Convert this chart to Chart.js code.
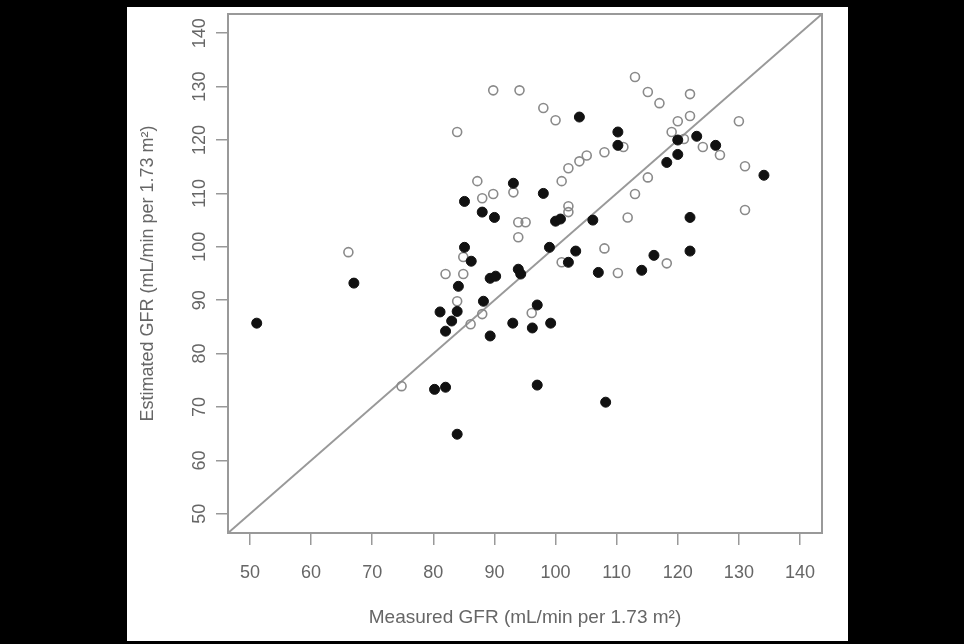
<!DOCTYPE html>
<html>
<head>
<meta charset="utf-8">
<script src="https://cdn.jsdelivr.net/npm/chart.js@4.4.1/dist/chart.umd.min.js"></script>
<style>
  html, body { margin: 0; padding: 0; background: #000; width: 964px; height: 644px; overflow: hidden; }
  #panel { position: absolute; left: 127px; top: 7px; width: 721px; height: 634px; background: #fff; }
</style>
</head>
<body>
<div id="panel"><canvas id="gfrChart"></canvas></div>
<script>
// measured GFR (x) vs estimated GFR (y), two groups
const filledX = [51.1, 67.0, 85.1, 88.0, 90.0, 85.1, 86.2, 84.1, 81.1, 83.9, 83.0, 82.0, 88.2, 89.3, 89.3, 90.2, 93.9, 94.3, 93.0, 80.2, 82.0, 83.9, 93.1, 98.0, 100.0, 100.8, 99.0, 102.1, 103.3, 106.1, 107.0, 114.1, 97.0, 96.2, 99.2, 97.0, 108.2, 103.9, 110.2, 110.2, 120.0, 123.1, 126.2, 120.0, 118.2, 134.1, 122.0, 122.0, 116.1];
const filledY = [85.7, 93.2, 108.5, 106.5, 105.5, 99.9, 97.3, 92.6, 87.8, 87.9, 86.1, 84.2, 89.8, 83.3, 94.1, 94.5, 95.8, 94.9, 85.7, 73.3, 73.7, 64.9, 111.9, 110.0, 104.8, 105.2, 99.9, 97.1, 99.2, 105.0, 95.2, 95.6, 89.1, 84.8, 85.7, 74.1, 70.9, 124.3, 121.5, 119.0, 120.0, 120.7, 119.0, 117.3, 115.8, 113.4, 105.5, 99.2, 98.4];

const openX = [66.1, 74.8, 83.9, 89.8, 94.1, 87.2, 88.0, 89.8, 93.1, 93.9, 95.1, 93.9, 84.9, 82.0, 84.9, 83.9, 86.1, 88.0, 101.0, 110.2, 118.2, 96.1, 113.0, 115.1, 117.0, 122.0, 98.0, 100.0, 122.0, 130.0, 120.0, 119.0, 111.1, 121.0, 124.1, 126.9, 131.0, 115.1, 113.0, 111.8, 131.0, 108.0, 102.1, 102.1, 101.0, 102.1, 103.9, 105.1, 108.0];
const openY = [99.0, 73.9, 121.5, 129.3, 129.3, 112.3, 109.1, 109.9, 110.2, 104.6, 104.6, 101.8, 98.1, 94.9, 94.9, 89.8, 85.5, 87.4, 97.1, 95.1, 96.9, 87.6, 131.8, 129.0, 126.9, 128.6, 126.0, 123.7, 124.5, 123.5, 123.5, 121.5, 118.7, 120.2, 118.7, 117.2, 115.1, 113.0, 109.9, 105.5, 106.9, 99.7, 107.6, 106.5, 112.3, 114.7, 116.0, 117.1, 117.7];

const axisRange = [46.4, 143.6];
const xTicks = [50, 60, 70, 80, 90, 100, 110, 120, 130, 140];
const yTicks = [50, 60, 70, 80, 90, 100, 110, 120, 130, 140];

const textGray = "#666";
const lineGray = "#999";

function toPoints(xs, ys) {
  return xs.map((x, i) => ({ x: x, y: ys[i] }));
}

// box around the plot + rotated y tick labels (R style)
const boxAndLabels = {
  id: "boxAndLabels",
  afterDraw(chart) {
    const { ctx, chartArea, scales } = chart;
    ctx.save();
    ctx.strokeStyle = lineGray;
    ctx.lineWidth = 2;
    ctx.strokeRect(chartArea.left, chartArea.top, chartArea.right - chartArea.left, chartArea.bottom - chartArea.top);

    ctx.fillStyle = textGray;
    ctx.font = "18px 'Liberation Sans', Arial, sans-serif";
    ctx.textAlign = "center";
    ctx.textBaseline = "middle";
    yTicks.forEach((v) => {
      const py = scales.y.getPixelForValue(v);
      ctx.save();
      ctx.translate(chartArea.left - 28, py);
      ctx.rotate(-Math.PI / 2);
      ctx.fillText(String(v), 0, 0);
      ctx.restore();
    });
    ctx.restore();
  },
};

const ctx = document.getElementById("gfrChart").getContext("2d");
new Chart(ctx, {
  type: "scatter",
  data: {
    datasets: [
      {
        label: "filled",
        data: toPoints(filledX, filledY),
        pointRadius: 5,
        pointBackgroundColor: "#111",
        pointBorderColor: "#111",
        pointBorderWidth: 1,
      },
      {
        label: "open",
        data: toPoints(openX, openY),
        pointRadius: 4.5,
        pointBackgroundColor: "rgba(255,255,255,0)",
        pointBorderColor: "#8a8a8a",
        pointBorderWidth: 1.6,
      },
      {
        type: "line",
        label: "identity",
        data: toPoints(axisRange, axisRange),
        borderColor: lineGray,
        borderWidth: 2,
        pointRadius: 0,
        fill: false,
      },
    ],
  },
  options: {
    responsive: true,
    maintainAspectRatio: false,
    animation: false,
    layout: { padding: { top: 7, right: 26, bottom: 0, left: 0 } },
    plugins: {
      legend: { display: false },
      tooltip: { enabled: false },
    },
    scales: {
      x: {
        type: "linear",
        min: axisRange[0],
        max: axisRange[1],
        afterBuildTicks: (scale) => { scale.ticks = xTicks.map((v) => ({ value: v })); },
        afterFit: (scale) => { scale.height = 108; },
        ticks: {
          maxRotation: 0,
          padding: 17,
          color: textGray,
          font: { family: "'Liberation Sans', Arial, sans-serif", size: 18 },
        },
        grid: { drawOnChartArea: false, drawTicks: true, tickLength: 12, color: lineGray, lineWidth: 1.5 },
        border: { display: false },
        title: {
          display: true,
          text: "Measured GFR (mL/min per 1.73 m²)",
          color: textGray,
          font: { family: "'Liberation Sans', Arial, sans-serif", size: 19 },
          padding: { top: 0, bottom: 12 },
        },
      },
      y: {
        type: "linear",
        min: axisRange[0],
        max: axisRange[1],
        afterBuildTicks: (scale) => { scale.ticks = yTicks.map((v) => ({ value: v })); },
        afterFit: (scale) => { scale.width = 101; },
        ticks: { display: false },
        grid: { drawOnChartArea: false, drawTicks: true, tickLength: 12, color: lineGray, lineWidth: 1.5 },
        border: { display: false },
        title: {
          display: true,
          text: "Estimated GFR (mL/min per 1.73 m²)",
          color: textGray,
          font: { family: "'Liberation Sans', Arial, sans-serif", size: 18 },
          padding: { top: 10, bottom: 0 },
        },
      },
    },
  },
  plugins: [boxAndLabels],
});
</script>
</body>
</html>
